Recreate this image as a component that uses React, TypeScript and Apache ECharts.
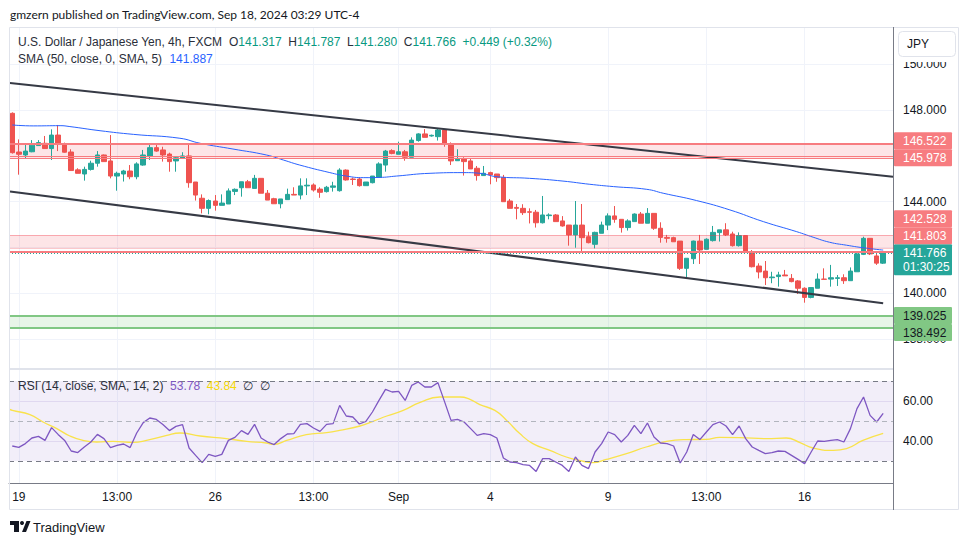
import React, { useEffect, useRef } from "react";
import * as echarts from "echarts";

// ---------- DATA ----------
// 4h candles, [open, high, low, close]
const ohlc: [number, number, number, number][] = [
  [147.86, 147.9, 146.1, 146.14], [146.17, 146.72, 145.18, 146.07], [146.04, 146.55, 145.89, 146.21], [146.18, 146.69, 146.16, 146.47],
  [146.45, 146.69, 146.45, 146.58], [146.55, 146.87, 146.32, 146.32], [146.32, 147.16, 145.82, 146.91], [146.91, 147.35, 146.21, 146.5],
  [146.53, 146.58, 146.14, 146.16], [146.17, 146.29, 145.36, 145.36], [145.39, 145.46, 145.24, 145.24], [145.21, 145.53, 144.92, 145.41],
  [145.41, 145.79, 145.36, 145.68], [145.68, 146.21, 145.53, 146.04], [146.04, 146.06, 145.75, 145.75], [145.78, 146.91, 145.02, 145.12],
  [145.12, 145.31, 144.48, 145.24], [145.21, 145.39, 144.88, 145.34], [145.34, 145.6, 144.98, 145.09], [145.09, 145.72, 144.98, 145.65],
  [145.6, 146.26, 145.57, 146.04], [145.99, 146.55, 145.82, 146.36], [146.36, 146.52, 146.18, 146.21], [146.26, 146.4, 145.75, 146.04],
  [146.08, 146.14, 145.31, 145.75], [145.78, 145.97, 145.31, 145.92], [145.89, 146.16, 145.89, 146.0], [146.0, 146.5, 144.61, 144.83],
  [144.86, 144.86, 144.05, 144.29], [144.15, 144.32, 143.49, 143.71], [143.71, 144.1, 143.45, 144.05], [144.03, 144.29, 143.61, 143.84],
  [143.84, 144.32, 143.84, 143.94], [143.9, 144.58, 143.9, 144.47], [144.45, 144.58, 144.29, 144.54], [144.61, 144.87, 144.22, 144.87],
  [144.87, 144.95, 144.61, 144.61], [144.58, 145.17, 144.58, 145.02], [145.02, 145.02, 144.37, 144.37], [144.37, 144.51, 144.07, 144.07],
  [144.13, 144.17, 143.91, 143.91], [143.91, 144.12, 143.71, 144.12], [144.09, 144.57, 144.09, 144.32], [144.32, 144.63, 144.29, 144.29],
  [144.29, 145.02, 144.1, 144.69], [144.69, 145.02, 144.29, 144.72], [144.73, 144.8, 144.44, 144.51], [144.55, 144.63, 144.17, 144.41],
  [144.44, 144.69, 144.4, 144.63], [144.63, 144.87, 144.44, 144.69], [144.48, 145.46, 144.44, 145.38], [145.38, 145.41, 144.92, 144.95],
  [144.99, 145.05, 144.73, 144.97], [144.99, 145.05, 144.66, 144.7], [144.7, 144.86, 144.7, 144.86], [144.83, 145.12, 144.8, 145.12],
  [145.06, 145.72, 145.06, 145.65], [145.6, 146.26, 145.31, 146.21], [146.23, 146.29, 146.07, 146.11], [146.07, 146.62, 146.07, 146.18],
  [146.18, 146.26, 145.79, 145.94], [145.94, 146.81, 145.94, 146.69], [146.67, 146.99, 146.62, 146.96], [146.96, 147.17, 146.81, 146.81],
  [146.87, 146.93, 146.84, 146.9], [146.84, 147.2, 146.67, 147.13], [147.13, 147.17, 146.4, 146.5], [146.5, 146.59, 145.6, 145.78],
  [145.79, 146.29, 145.79, 145.86], [145.86, 145.94, 145.14, 145.75], [145.78, 145.89, 145.43, 145.43], [145.46, 145.56, 144.92, 145.14],
  [145.14, 145.56, 145.14, 145.24], [145.27, 145.31, 144.76, 145.17], [145.21, 145.21, 144.87, 145.05], [145.06, 145.17, 144.0, 144.0],
  [144.03, 144.12, 143.71, 143.71], [143.75, 143.9, 143.23, 143.71], [143.71, 143.89, 143.42, 143.52], [143.56, 143.71, 143.05, 143.54],
  [143.54, 143.64, 142.87, 143.08], [143.08, 144.25, 143.05, 143.42], [143.39, 143.49, 143.23, 143.42], [143.42, 143.46, 143.13, 143.13],
  [143.16, 143.37, 142.91, 142.94], [142.98, 142.98, 142.08, 142.55], [142.55, 144.03, 141.99, 142.98], [142.98, 143.9, 141.77, 142.43],
  [142.47, 142.69, 142.18, 142.21], [142.14, 142.69, 141.96, 142.66], [142.62, 143.13, 142.62, 142.98], [142.98, 143.49, 142.76, 143.38],
  [143.38, 143.81, 143.08, 143.23], [143.23, 143.23, 142.65, 142.87], [142.87, 143.23, 142.74, 143.16], [143.13, 143.49, 143.13, 143.46],
  [143.46, 143.55, 143.06, 143.06], [143.06, 143.72, 143.06, 143.49], [143.49, 143.49, 142.77, 142.84], [142.84, 143.1, 142.21, 142.44],
  [142.44, 142.55, 142.21, 142.4], [142.43, 142.47, 142.24, 142.25], [142.28, 142.28, 141.02, 141.09], [141.09, 141.53, 140.7, 141.53],
  [141.51, 142.3, 141.28, 142.28], [142.28, 142.55, 141.28, 141.89], [141.92, 142.4, 141.92, 142.36], [142.3, 142.94, 142.26, 142.66],
  [142.65, 142.77, 142.26, 142.77], [142.77, 143.06, 142.5, 142.55], [142.59, 142.69, 142.04, 142.08], [142.08, 142.66, 142.04, 142.52],
  [142.52, 142.52, 141.79, 141.79], [141.82, 141.89, 141.13, 141.16], [141.19, 141.31, 140.65, 140.93], [140.97, 141.41, 140.36, 140.68],
  [140.68, 140.94, 140.44, 140.71], [140.73, 140.94, 140.29, 140.8], [140.8, 141.02, 140.76, 140.76], [140.65, 140.84, 140.48, 140.51],
  [140.54, 140.58, 139.97, 140.22], [140.22, 140.26, 139.59, 139.82], [139.82, 140.25, 139.78, 140.25], [140.22, 140.87, 140.22, 140.62],
  [140.62, 141.09, 140.61, 140.61], [140.62, 141.24, 140.29, 140.68], [140.65, 140.8, 140.32, 140.68], [140.68, 140.83, 140.41, 140.55],
  [140.55, 141.13, 140.55, 140.97], [140.94, 141.82, 140.94, 141.72], [141.7, 142.47, 141.67, 142.4], [142.4, 142.4, 141.67, 141.72],
  [141.63, 141.72, 141.24, 141.317], [141.317, 141.787, 141.28, 141.766],
];

// SMA(50) overlay, [candle index, value]
const smaPoints: [number, number][] = [
  [0, 147.35], [3.2, 147.31], [7.3, 147.32], [8.8, 147.28], [13.4, 147.1], [18.5, 146.94], [25.6, 146.77], [28.7, 146.55],
  [33.7, 146.3], [38.8, 146.04], [41.4, 145.82], [43.9, 145.6], [48.5, 145.27], [51, 145.12], [53.6, 145.05], [56.1, 145.06],
  [58.7, 145.12], [63.8, 145.24], [68.9, 145.27], [71.4, 145.24], [74, 145.09], [79, 145.02], [84.1, 144.9], [88.2, 144.76],
  [91.8, 144.66], [96.9, 144.54], [99.4, 144.37], [104.5, 144.05], [109.6, 143.64], [114.7, 143.13], [119.8, 142.69],
  [122.3, 142.45], [124.8, 142.23], [127.4, 142.1], [129.9, 141.99], [133, 141.887],
];

// RSI(14), one value per candle
const rsiValues: number[] = [
  37.5, 36.8, 38.7, 41.5, 42.3, 40.3, 46.7, 43.3, 40.3, 35.0, 34.2, 37.0, 39.5, 43.3, 41.2, 36.7, 37.8, 38.5, 36.7, 44.0,
  49.2, 51.5, 50.8, 48.2, 45.2, 47.3, 48.2, 36.5, 32.8, 29.2, 33.3, 32.3, 33.3, 40.3, 41.8, 45.2, 43.3, 48.3, 41.5, 39.5,
  38.2, 41.2, 43.5, 43.7, 48.3, 48.7, 46.5, 44.8, 48.3, 48.7, 57.8, 52.5, 52.0, 48.5, 49.8, 54.5, 60.3, 65.8, 64.5, 64.8,
  60.3, 67.8, 69.5, 67.0, 67.0, 69.2, 59.8, 50.3, 50.8, 49.5, 46.2, 42.8, 43.7, 43.2, 41.5, 31.5, 29.5, 29.2, 28.2, 27.8,
  24.8, 31.2, 31.2, 29.5, 27.8, 24.8, 32.0, 27.8, 26.2, 34.5, 38.7, 44.5, 43.2, 39.5, 42.8, 47.8, 43.7, 49.0, 42.0, 39.0,
  38.7, 37.5, 29.0, 34.5, 43.2, 40.7, 44.5, 48.2, 49.5, 47.5, 43.2, 47.5, 41.2, 37.0, 35.3, 33.7, 34.2, 35.0, 34.8, 32.8,
  30.8, 28.7, 34.5, 40.0, 39.8, 40.3, 40.7, 39.5, 46.2, 56.2, 62.0, 52.8, 49.5, 53.78,
];

// SMA(14) of RSI, [candle index, value]
const rsiSmaPoints: [number, number][] = [
  [-0.35, 55.8], [0, 55.3], [2.7, 53.2], [4.7, 49.5], [6.8, 46.2], [8.8, 42.5], [10.8, 40.3], [12.9, 39.5], [15.4, 39.8],
  [18.5, 39.3], [20.5, 40.3], [23.6, 42.8], [25.6, 44.0], [28.7, 42.5], [32.7, 41.2], [35.8, 39.8], [38.8, 39.0], [39.9, 38.3],
  [41.9, 40.3], [44.9, 43.2], [48, 44.2], [50, 45.3], [53.1, 47.5], [55.1, 49.8], [57.2, 52.5], [59.7, 55.3], [62.2, 59.2],
  [65.3, 62.0], [68.4, 62.0], [69.9, 60.8], [71.4, 58.2], [73.7, 55.3], [75.5, 50.3], [77.5, 43.7], [79.5, 38.7], [82.1, 35.3],
  [84.6, 32.0], [86.6, 30.3], [88.7, 29.2], [90.7, 30.8], [93.8, 33.7], [96.8, 37.0], [99.9, 39.8], [102.9, 40.7], [106, 40.8],
  [108, 41.8], [111.1, 41.7], [115.2, 41.2], [118.2, 41.5], [120.3, 39.2], [122.3, 36.5], [125.4, 35.3], [127.4, 36.2],
  [129.9, 40.3], [133, 43.84],
];

const timeTickIndex = [1, 16, 31, 46, 59, 73, 91, 106, 121];
const timeTickLabels = ["19", "13:00", "26", "13:00", "Sep", "4", "9", "13:00", "16"];
const priceGridTicks = [138, 140, 142, 144, 146, 148, 150];
// 142.000 and 146.000 sit under the level boxes in the reference, so only these are printed
const priceLabelTicks = [138, 140, 144, 148, 150];
const rsiTicks = [40, 60];
const rsiBands = [70, 50, 30];

// drawn channel (two anchor points each, [candle index, price])
const channelUpper: [number, number][] = [[-0.35, 149.18], [134.5, 145.09]];
const channelLower: [number, number][] = [[-0.35, 144.45], [133, 139.57]];

// zones
const resistanceZones = [
  { top: 146.522, bottom: 145.91, level: 145.978 },
  { top: 142.528, bottom: 141.965, level: 141.803 },
];
const supportZone = { top: 139.025, bottom: 138.492 };
const countdown = "01:30:25";

// ---------- STYLE ----------
const UP = "#26a69a";
const DOWN = "#ef5350";
const RED_ZONE = "#f77c80";
const GREEN_ZONE = "#81c784";
const FONT = "'Liberation Sans', Arial, sans-serif";
const TEXT = "#131722";
const GRID = "#f0f3fa";

const X_MIN = -0.5;
const X_MAX = 134.5;

export default function App() {
  const ref = useRef<HTMLDivElement>(null);

  useEffect(() => {
    if (!ref.current) return;
    const chart = echarts.init(ref.current, null, { renderer: "svg" });

    const candleData = ohlc.map(([o, h, l, c], i) => [i, o, c, l, h]);
    const last = ohlc[ohlc.length - 1];
    const prevClose = ohlc[ohlc.length - 2][3];
    const change = last[3] - prevClose;
    const pct = (change / prevClose) * 100;
    const lastClose = last[3];

    const labelFor = (v: number) => {
      const k = timeTickIndex.indexOf(Math.round(v));
      return k >= 0 ? timeTickLabels[k] : "";
    };

    const option: any = {
      animation: false,
      backgroundColor: "#ffffff",
      grid: [
        { left: 9, top: 28, width: 884, height: 341 },
        { left: 9, top: 369, width: 884, height: 114 },
      ],
      xAxis: [
        {
          type: "value", gridIndex: 0, min: X_MIN, max: X_MAX,
          axisLine: { show: false },
          axisTick: { show: false, customValues: timeTickIndex },
          axisLabel: { show: false, customValues: timeTickIndex },
          splitLine: { show: true, lineStyle: { color: GRID, width: 1 } },
        },
        {
          type: "value", gridIndex: 1, min: X_MIN, max: X_MAX,
          axisLine: { show: true, onZero: false, lineStyle: { color: "#787b86", width: 1 } },
          axisTick: { show: false, customValues: timeTickIndex },
          axisLabel: {
            customValues: timeTickIndex, formatter: labelFor, color: TEXT,
            fontFamily: FONT, fontSize: 12, margin: 8,
          },
          splitLine: { show: true, lineStyle: { color: GRID, width: 1 } },
        },
      ],
      yAxis: [
        {
          type: "value", gridIndex: 0, position: "right", min: 136.694, max: 151.585,
          axisLine: { show: false },
          axisTick: { show: false, customValues: priceGridTicks },
          axisLabel: {
            customValues: priceLabelTicks, formatter: (v: number) => v.toFixed(3),
            color: TEXT, fontFamily: FONT, fontSize: 12, margin: 10,
          },
          splitLine: { show: true, lineStyle: { color: GRID, width: 1 } },
        },
        {
          type: "value", gridIndex: 1, position: "right", min: 19, max: 76,
          axisLine: { show: false },
          axisTick: { show: false, customValues: rsiTicks },
          axisLabel: {
            customValues: rsiTicks, formatter: (v: number) => v.toFixed(2),
            color: TEXT, fontFamily: FONT, fontSize: 12, margin: 10,
          },
          splitLine: { show: true, lineStyle: { color: "#ebe7f5", width: 1 } },
        },
      ],
      series: [
        {
          type: "candlestick", xAxisIndex: 0, yAxisIndex: 0,
          data: candleData,
          barWidth: 5,
          itemStyle: { color: UP, color0: DOWN, borderColor: UP, borderColor0: DOWN, borderWidth: 1 },
          markArea: {
            silent: true,
            data: [
              ...resistanceZones.map((z) => [
                { yAxis: z.top, itemStyle: { color: "rgba(242,54,69,0.13)" } },
                { yAxis: z.bottom },
              ]),
              [
                { yAxis: supportZone.top, itemStyle: { color: "rgba(76,175,80,0.13)" } },
                { yAxis: supportZone.bottom },
              ],
            ],
          },
          markLine: {
            silent: true, symbol: ["none", "none"], label: { show: false },
            data: [
              { yAxis: resistanceZones[0].top, lineStyle: { color: RED_ZONE, width: 2, type: "solid" } },
              { yAxis: resistanceZones[0].level, lineStyle: { color: RED_ZONE, width: 1.2, type: "solid" } },
              { yAxis: resistanceZones[0].bottom, lineStyle: { color: RED_ZONE, width: 1.2, type: "solid" } },
              { yAxis: resistanceZones[1].top, lineStyle: { color: "rgba(242,54,69,0.4)", width: 1.2, type: "solid" } },
              { yAxis: resistanceZones[1].bottom, lineStyle: { color: "rgba(242,54,69,0.25)", width: 1, type: "solid" } },
              { yAxis: resistanceZones[1].level, lineStyle: { color: RED_ZONE, width: 2, type: "solid" } },
              { yAxis: supportZone.top, lineStyle: { color: GREEN_ZONE, width: 2, type: "solid" } },
              { yAxis: supportZone.bottom, lineStyle: { color: GREEN_ZONE, width: 2, type: "solid" } },
              { yAxis: lastClose, lineStyle: { color: UP, width: 1, type: [1, 2] } },
            ],
          },
        },
        {
          type: "line", xAxisIndex: 0, yAxisIndex: 0, data: smaPoints, smooth: true,
          symbol: "none", lineStyle: { color: "#2962ff", width: 1 }, z: 3,
        },
        {
          type: "line", xAxisIndex: 0, yAxisIndex: 0, data: channelUpper,
          symbol: "none", lineStyle: { color: "#363a45", width: 2 }, z: 4,
        },
        {
          type: "line", xAxisIndex: 0, yAxisIndex: 0, data: channelLower,
          symbol: "none", lineStyle: { color: "#363a45", width: 2 }, z: 4,
        },
        {
          type: "line", xAxisIndex: 1, yAxisIndex: 1,
          data: rsiValues.map((v, i) => [i, v]),
          symbol: "none", lineStyle: { color: "#7e57c2", width: 1.3 }, z: 4,
          markArea: {
            silent: true,
            data: [[{ yAxis: rsiBands[0], itemStyle: { color: "rgba(126,87,194,0.1)" } }, { yAxis: rsiBands[2] }]],
          },
          markLine: {
            silent: true, symbol: ["none", "none"], label: { show: false },
            data: [
              { yAxis: rsiBands[0], lineStyle: { color: "#787b86", width: 1, type: [5, 4] } },
              { yAxis: rsiBands[1], lineStyle: { color: "#b2b5be", width: 1, type: [5, 4] } },
              { yAxis: rsiBands[2], lineStyle: { color: "#787b86", width: 1, type: [5, 4] } },
            ],
          },
        },
        {
          type: "line", xAxisIndex: 1, yAxisIndex: 1, data: rsiSmaPoints, smooth: true,
          symbol: "none", lineStyle: { color: "#f9e24b", width: 1.3 }, z: 3,
        },
      ],
    };
    chart.setOption(option);

    // price-scale label boxes, placed from the axis scale
    const py = (v: number) => chart.convertToPixel({ yAxisIndex: 0 }, v) as number;
    const BOX_X = 894;
    const BOX_W = 58;
    const BOX_H = 17;
    const boxes: any[] = [];
    const addBox = (cy: number, fill: string, color: string, lines: string[]) => {
      const h = BOX_H + (lines.length - 1) * 14;
      const top = cy - BOX_H / 2;
      boxes.push({
        type: "rect", z: 100, shape: { x: BOX_X, y: top, width: BOX_W, height: h, r: 1 },
        style: { fill, stroke: "none" },
      });
      lines.forEach((t, k) => {
        boxes.push({
          type: "text", z: 101, x: 903, y: cy + k * 14,
          style: { text: t, fill: color, font: `12px ${FONT}`, verticalAlign: "middle", align: "left" },
        });
      });
      return { top, bottom: top + h };
    };
    // last price
    const lastBox = addBox(py(lastClose), UP, "#ffffff", [lastClose.toFixed(3), countdown]);
    // upper zone pair
    const z0 = resistanceZones[0];
    const mid0 = (py(z0.top) + py(z0.level)) / 2;
    addBox(mid0 - BOX_H / 2 - 1, RED_ZONE, "#ffffff", [z0.top.toFixed(3)]);
    addBox(mid0 + BOX_H / 2 - 1, RED_ZONE, "#ffffff", [z0.level.toFixed(3)]);
    // lower zone pair, stacked above the last-price box
    const z1 = resistanceZones[1];
    const c1b = Math.min(py(z1.level), lastBox.top - BOX_H / 2);
    addBox(c1b - BOX_H, RED_ZONE, "#ffffff", [z1.top.toFixed(3)]);
    addBox(c1b, RED_ZONE, "#ffffff", [z1.level.toFixed(3)]);
    // support pair
    const g0 = py(supportZone.top);
    const g1 = Math.max(py(supportZone.bottom), g0 + BOX_H);
    addBox(g0, GREEN_ZONE, TEXT, [supportZone.top.toFixed(3)]);
    addBox(g1, GREEN_ZONE, TEXT, [supportZone.bottom.toFixed(3)]);

    const smaLast = smaPoints[smaPoints.length - 1][1];
    const rsiLast = rsiValues[rsiValues.length - 1];
    const rsiSmaLast = rsiSmaPoints[rsiSmaPoints.length - 1][1];
    const sign = change >= 0 ? "+" : "";

    const graphic: any[] = [
      {
        type: "text", x: 10, y: 14, z: 100,
        style: {
          text: "gmzern published on TradingView.com, Sep 18, 2024 03:29 UTC-4",
          fill: TEXT, font: `12px Lato, ${FONT}`, verticalAlign: "middle",
        },
      },
      {
        type: "rect", z: 90, shape: { x: 9.5, y: 27.5, width: 949, height: 482 },
        style: { fill: "none", stroke: "#e0e3eb", lineWidth: 1 },
      },
      {
        type: "line", z: 90, shape: { x1: 9, y1: 369, x2: 893, y2: 369 },
        style: { stroke: "#e0e3eb", lineWidth: 2 },
      },
      {
        type: "line", z: 91, shape: { x1: 893.5, y1: 27, x2: 893.5, y2: 510 },
        style: { stroke: "#787b86", lineWidth: 1 },
      },
      {
        type: "rect", z: 102, shape: { x: 895, y: 28, width: 62, height: 34 },
        style: { fill: "#ffffff", stroke: "none" },
      },
      {
        type: "rect", z: 103, shape: { x: 898.5, y: 31.5, width: 57, height: 25, r: 4 },
        style: { fill: "#ffffff", stroke: "#e0e3eb", lineWidth: 1 },
      },
      {
        type: "text", z: 104, x: 907, y: 44,
        style: { text: "JPY", fill: TEXT, font: `12px ${FONT}`, verticalAlign: "middle" },
      },
      {
        type: "text", x: 18, y: 42, z: 100,
        style: {
          text:
            `{g|U.S. Dollar / Japanese Yen, 4h, FXCM}  {g|O}{v|${last[0].toFixed(3)}}  {g|H}{v|${last[1].toFixed(3)}}` +
            `  {g|L}{v|${last[2].toFixed(3)}}  {g|C}{v|${last[3].toFixed(3)}}  {v|${sign}${change.toFixed(3)} (${sign}${pct.toFixed(2)}%)}`,
          verticalAlign: "middle",
          rich: {
            g: { fill: "#2a2e39", fontSize: 12, fontFamily: FONT },
            v: { fill: "#089981", fontSize: 12, fontFamily: FONT },
          },
        },
      },
      {
        type: "text", x: 18, y: 59, z: 100,
        style: {
          text: `{g|SMA (50, close, 0, SMA, 5)}  {b|${smaLast.toFixed(3)}}`,
          verticalAlign: "middle",
          rich: {
            g: { fill: "#2a2e39", fontSize: 12, fontFamily: FONT },
            b: { fill: "#2962ff", fontSize: 12, fontFamily: FONT },
          },
        },
      },
      {
        type: "text", x: 18, y: 386, z: 100,
        style: {
          text: `{g|RSI (14, close, SMA, 14, 2)}  {p|${rsiLast.toFixed(2)}}  {y|${rsiSmaLast.toFixed(2)}}  {g|∅  ∅}`,
          verticalAlign: "middle",
          rich: {
            g: { fill: "#2a2e39", fontSize: 12, fontFamily: FONT },
            p: { fill: "#7e57c2", fontSize: 12, fontFamily: FONT },
            y: { fill: "#f5d90a", fontSize: 12, fontFamily: FONT },
          },
        },
      },
      // footer logo
      { type: "rect", z: 100, shape: { x: 10, y: 521, width: 9, height: 4 }, style: { fill: TEXT } },
      { type: "rect", z: 100, shape: { x: 14, y: 521, width: 5, height: 11 }, style: { fill: TEXT } },
      { type: "circle", z: 100, shape: { cx: 22, cy: 523, r: 2 }, style: { fill: TEXT } },
      {
        type: "polygon", z: 100,
        shape: { points: [[22, 532], [26.5, 521], [30.5, 521], [26, 532]] },
        style: { fill: TEXT },
      },
      {
        type: "text", x: 33, y: 527, z: 100,
        style: { text: "TradingView", fill: TEXT, font: `13px ${FONT}`, verticalAlign: "middle" },
      },
      ...boxes,
    ];
    chart.setOption({ graphic });

    return () => chart.dispose();
  }, []);

  return (
    <div
      ref={ref}
      style={{ position: "fixed", left: 0, top: 0, width: 970, height: 545, background: "#fff" }}
    />
  );
}
